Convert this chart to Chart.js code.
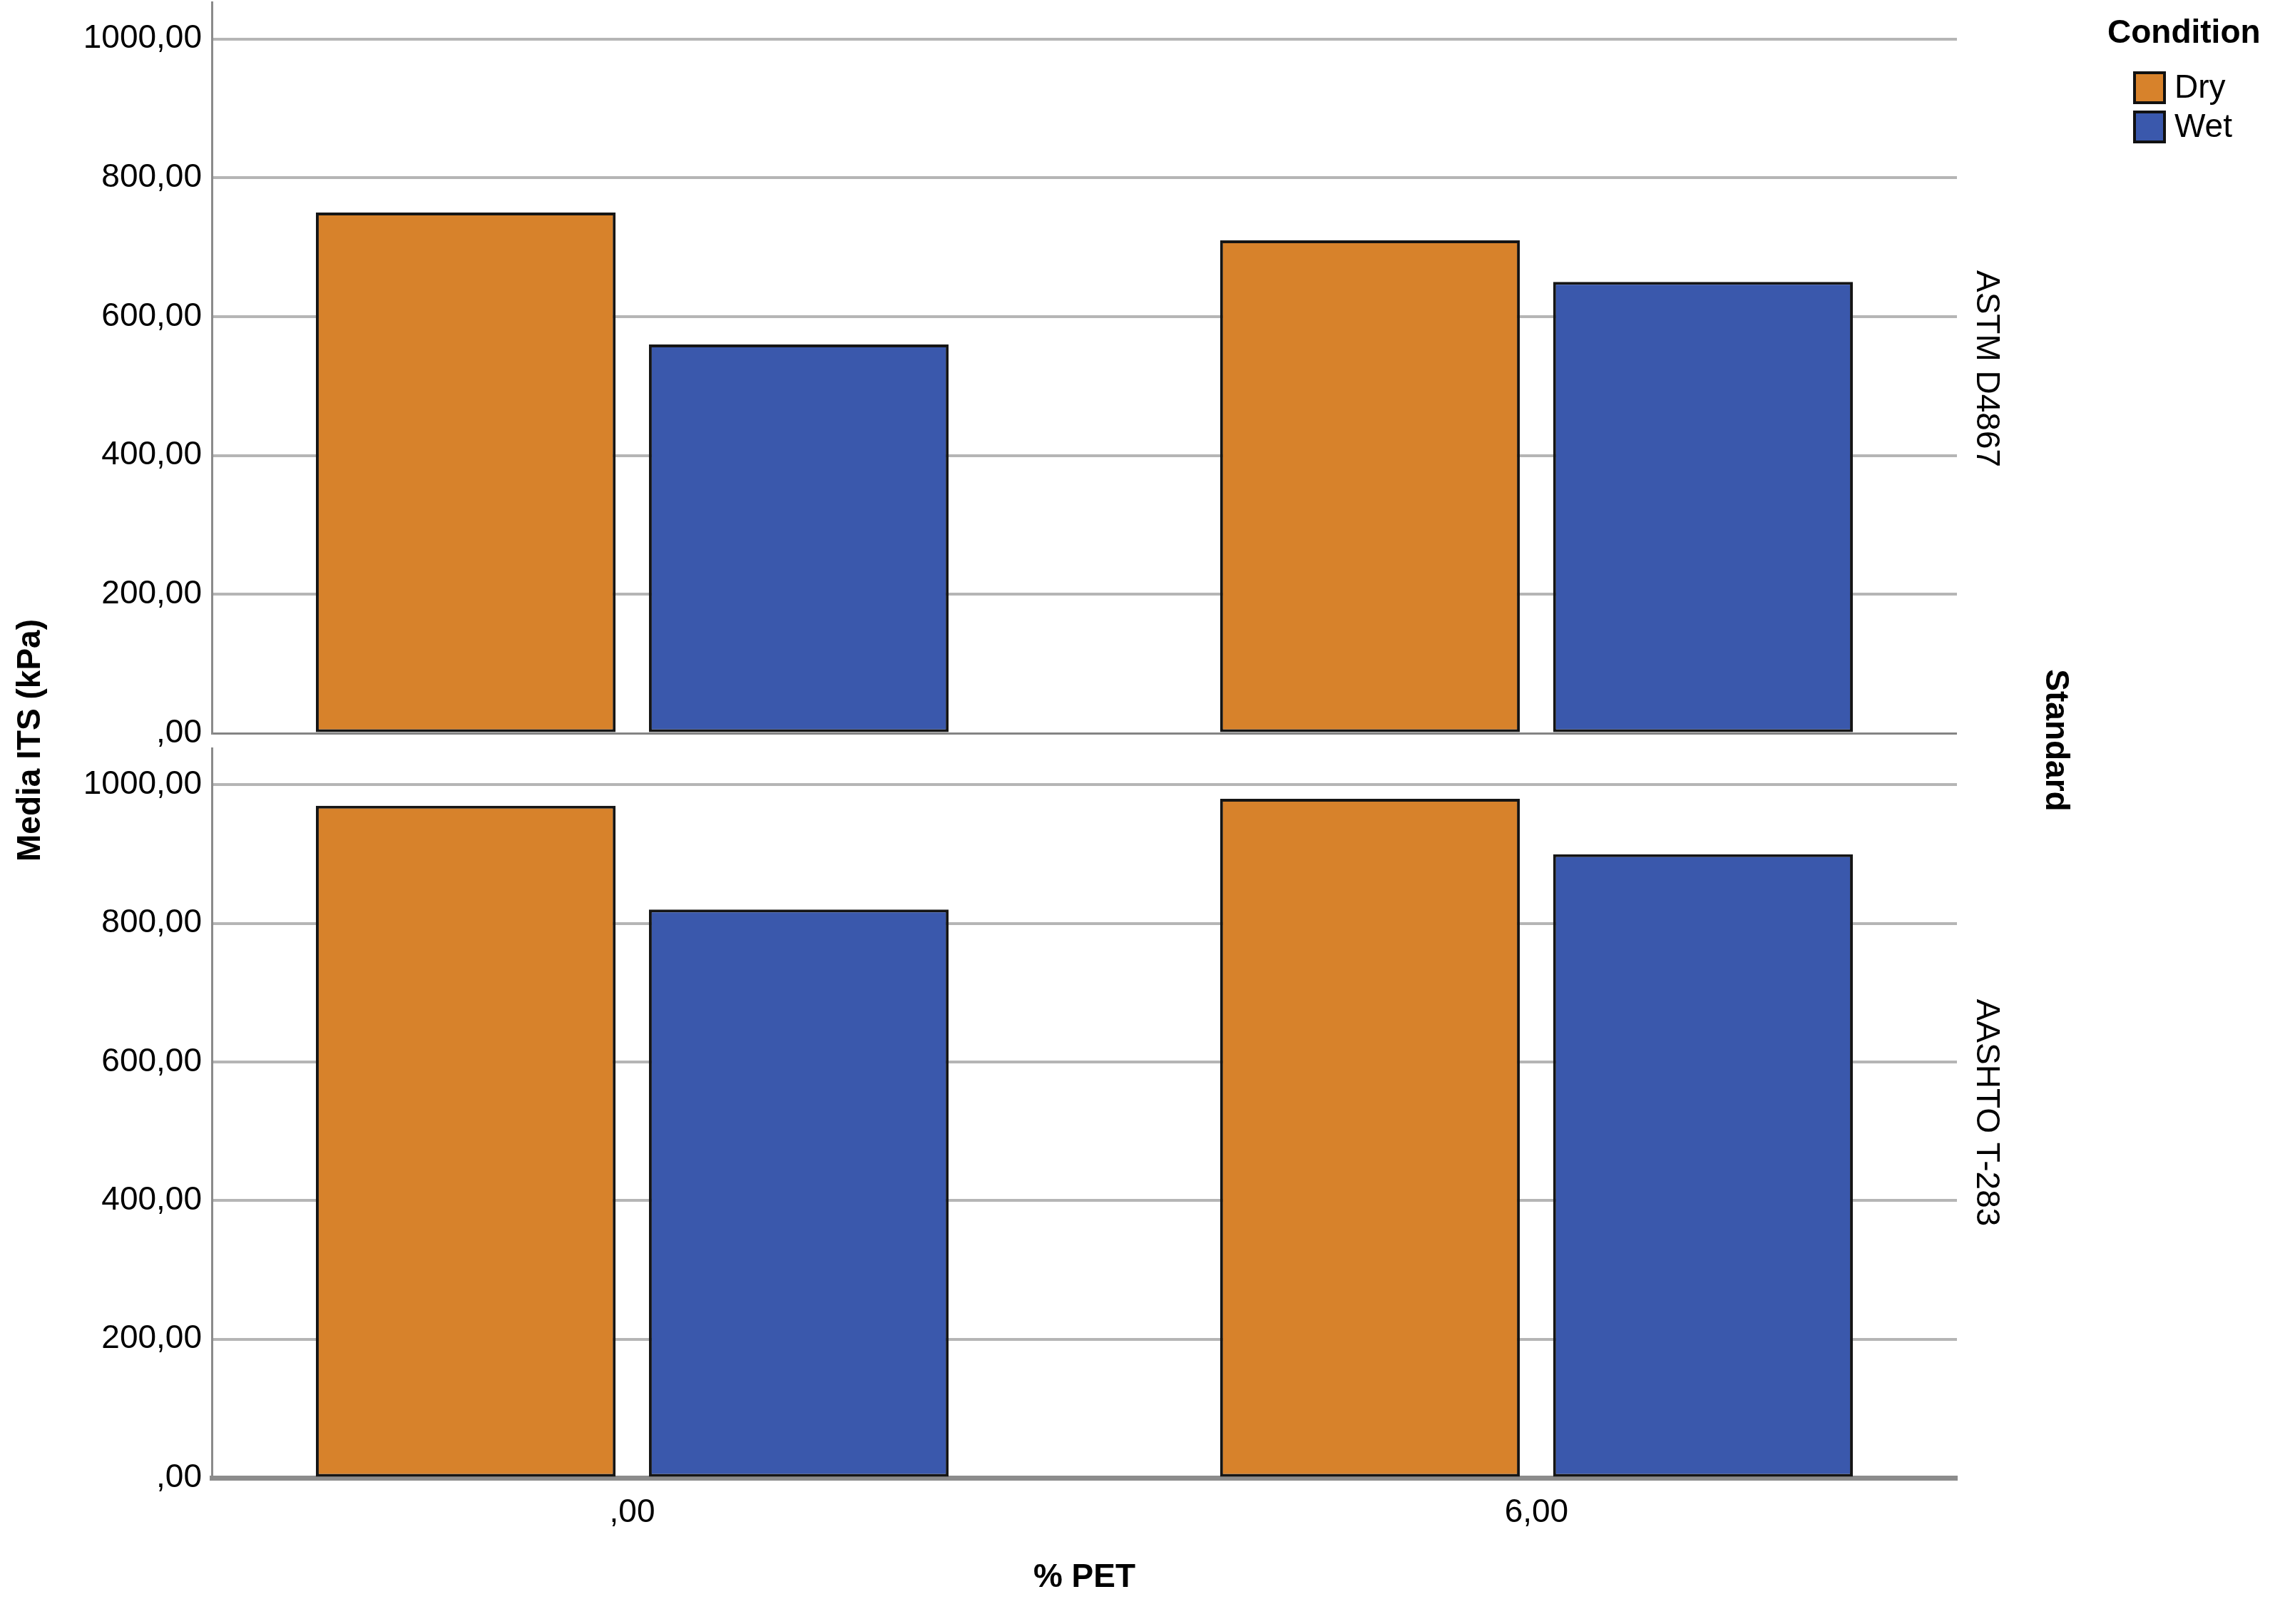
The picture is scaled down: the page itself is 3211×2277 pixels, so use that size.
<!DOCTYPE html>
<html>
<head>
<meta charset="utf-8">
<script src="https://cdn.jsdelivr.net/npm/chart.js@4.4.1/dist/chart.umd.min.js"></script>
<style>
html, body { margin: 0; padding: 0; background: #fff; }
#wrap { position: relative; width: 3211px; height: 2277px; }
canvas { position: absolute; left: 0; top: 0; }
</style>
</head>
<body>
<div id="wrap">
  <canvas id="chartTop" width="3211" height="2277"></canvas>
  <canvas id="chartBottom" width="3211" height="2277"></canvas>
</div>
<script>
// values
var categories = [',00', '6,00']
var conditions = ['Dry', 'Wet']
var panels = ['ASTM D4867', 'AASHTO T-283']
var astmDry = [750, 710]
var astmWet = [560, 650]
var aashtoDry = [970, 980]
var aashtoWet = [820, 900]
var yTicks = [0, 200, 400, 600, 800, 1000]
var yMax = 1053

var colors = ['#d7822b', '#3a58ac']
var W = 3211, H = 2277
var plotRight = 2744, axisWidth = 297

Chart.defaults.font.family = '"Liberation Sans", Arial, sans-serif'
Chart.defaults.font.size = 46
Chart.defaults.color = '#000'

function fmt(v) {
	if (v === 0) return ',00'
	return v.toFixed(2).replace('.', ',')
}

function points(arr) {
	return arr.map(function (v, i) { return { x: i, y: v } })
}

// legend, facet labels and shared titles
var overlay = {
	id: 'overlay',
	afterDraw: function (chart, args, opts) {
		var ctx = chart.ctx
		ctx.save()
		ctx.fillStyle = '#000'
		ctx.textBaseline = 'middle'

		ctx.font = 'bold 46px "Liberation Sans"'
		ctx.textAlign = 'center'
		ctx.save(); ctx.translate(43, 1038); ctx.rotate(-Math.PI / 2); ctx.fillText('Media ITS (kPa)', 0, 0); ctx.restore()
		ctx.save(); ctx.translate(2882, 1038); ctx.rotate(Math.PI / 2); ctx.fillText('Standard', 0, 0); ctx.restore()

		ctx.font = '46px "Liberation Sans"'
		var mids = [517, 1560]
		for (var i = 0; i < panels.length; i++) {
			ctx.save(); ctx.translate(2785, mids[i]); ctx.rotate(Math.PI / 2); ctx.fillText(panels[i], 0, 0); ctx.restore()
		}

		ctx.textAlign = 'left'
		ctx.font = 'bold 46px "Liberation Sans"'
		ctx.fillText('Condition', 2955, 47)
		ctx.font = '46px "Liberation Sans"'
		for (var j = 0; j < conditions.length; j++) {
			var y = 102 + j * 55
			ctx.fillStyle = colors[j]
			ctx.fillRect(2993, y, 42, 42)
			ctx.strokeStyle = '#111'
			ctx.lineWidth = 4
			ctx.strokeRect(2993, y, 42, 42)
			ctx.fillStyle = '#000'
			ctx.fillText(conditions[j], 3049, y + 22)
		}
		ctx.restore()
	}
}

function makeChart(id, dry, wet, top, bottom, showX) {
	var opts = {
		type: 'bar',
		data: {
			datasets: [
				{ label: conditions[0], data: points(dry), backgroundColor: colors[0] },
				{ label: conditions[1], data: points(wet), backgroundColor: colors[1] }
			]
		},
		options: {
			responsive: false,
			animation: false,
			devicePixelRatio: 1,
			datasets: {
				bar: {
					borderColor: '#151515',
					borderWidth: 4,
					borderSkipped: false,
					categoryPercentage: 0.7366,
					barPercentage: 0.9
				}
			},
			layout: {
				padding: { left: 0, top: top, right: W - plotRight, bottom: showX ? 0 : H - bottom }
			},
			plugins: {
				legend: { display: false },
				tooltip: { enabled: false }
			},
			scales: {
				x: {
					type: 'linear',
					offset: false,
					min: -0.465,
					max: 1.465,
					display: showX,
					afterBuildTicks: function (s) {
						s.ticks = categories.map(function (c, i) { return { value: i } })
					},
					afterFit: function (s) {
						if (showX) s.height = H - bottom
						s.paddingLeft = 0; s.paddingRight = 0
					},
					grid: { display: false, drawTicks: false },
					border: { display: true, color: '#8c8c8c', width: 7 },
					ticks: {
						padding: 22,
						autoSkip: false,
						maxRotation: 0,
						callback: function (v) { return categories[v] }
					},
					title: {
						display: true,
						text: '% PET',
						font: { weight: 'bold', size: 46 },
						padding: { top: 0, bottom: 37 }
					}
				},
				y: {
					min: 0,
					max: yMax,
					afterBuildTicks: function (s) {
						s.ticks = yTicks.map(function (v) { return { value: v } })
					},
					afterFit: function (s) {
						s.width = axisWidth
						s.paddingTop = 0; s.paddingBottom = 0
					},
					grid: {
						drawTicks: false,
						color: function (c) {
							if (c.tick && c.tick.value === 0) return showX ? 'rgba(0,0,0,0)' : '#848484'
							return '#b5b5b5'
						},
						lineWidth: function (c) {
							return c.tick && c.tick.value === 0 ? 3 : 4
						}
					},
					border: { color: '#8a8a8a', width: 3 },
					ticks: {
						padding: 14,
						callback: function (v) { return fmt(v) }
					}
				}
			}
		},
		plugins: showX ? [overlay] : []
	}
	return new Chart(document.getElementById(id), opts)
}

makeChart('chartTop', astmDry, astmWet, 3, 1028, false)
makeChart('chartBottom', aashtoDry, aashtoWet, 1049, 2072, true)
</script>
</body>
</html>
